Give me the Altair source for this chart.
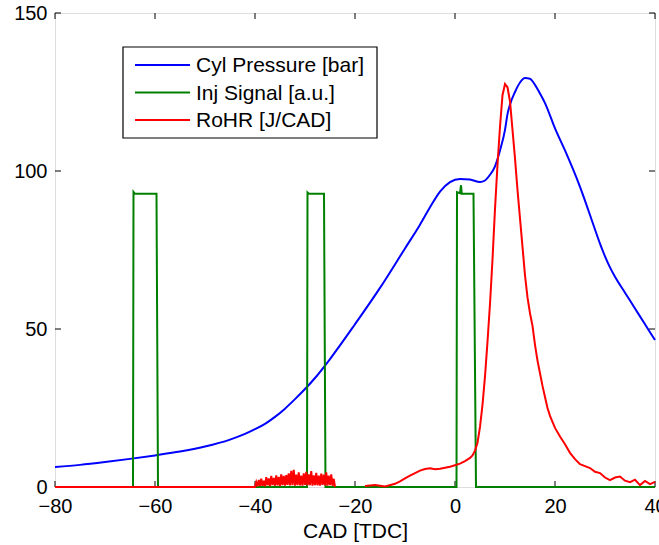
import altair as alt
import pandas as pd

# ---------------- data ----------------
series_names = ["Cyl Pressure [bar]", "Inj Signal [a.u.]", "RoHR [J/CAD]"]
series_colors = ["#0000ff", "#008000", "#ff0000"]

cyl_x = [-80, -75, -70, -65, -60, -55, -50, -45, -42, -40, -38, -36, -34, -32,
         -30, -28, -25, -20, -15, -10, -7, -5, -3, -1, 1,
         3, 5, 6, 7, 8, 9, 10, 10.5, 11, 12,
         13, 14, 15, 15.7, 17, 18, 20, 22, 25, 28,
         29, 30, 31, 32, 34, 36, 38, 40]
cyl_y = [6.3, 7.0, 7.9, 8.9, 10.0, 11.2, 12.8, 15.0, 16.8, 18.3, 20.0, 22.2, 24.8, 27.8,
         31.0, 34.5, 40.5, 51.5, 63.0, 75.5, 83.0, 88.5, 93.5, 96.5, 97.5,
         97.3, 96.5, 97.0, 98.8, 101.5, 106.5, 113, 118, 121, 125,
         128, 129.4, 129.2, 128, 124.5, 121.5, 113.5, 106.5, 95, 81.5,
         77, 73, 69.5, 66.5, 61.5, 56.5, 51.5, 46.5]

inj_x = [-80, -64.4, -64.3, -64.0, -59.7, -59.4,
         -29.6, -29.5, -29.2, -26.2, -25.9,
         0.3, 0.4, 1.0, 1.2, 1.35, 3.7, 4.2, 40]
inj_y = [0, 0, 93.4, 92.8, 92.8, 0,
         0, 93.2, 92.8, 92.8, 0,
         0, 93.3, 93.0, 95.5, 92.8, 92.8, 0, 0]

# RoHR segment A: zero baseline then combustion noise of the pilot
rohr_a_x0 = -80
noise_start = -40
noise_step = 0.25
rohr_noise = [0.0, 1.5, 0.2, 2.2, 0.3, 2.6, 0.4, 2.0, 0.2, 3.1, 0.5, 2.7, 0.3,
              3.5, 0.6, 2.9, 0.4, 3.7, 0.5, 3.2, 0.3, 4.0, 0.6, 3.5, 0.4, 3.8,
              0.7, 4.3, 0.5, 5.1, 0.6, 5.4, 0.4, 3.9, 0.6, 4.6, 0.5, 3.6, 0.4,
              4.3, 0.7, 4.8, 0.5, 4.0, 0.6, 5.0, 0.4, 3.7, 0.6, 4.5, 0.5, 3.6,
              0.4, 4.2, 0.7, 3.9, 0.5, 4.6, 0.4, 3.6, 0.6, 4.0, 0.4, 2.6, 0.0]

# RoHR segment B: main heat release
rohr_b_x = [-18, -16, -14, -12, -11, -10, -9, -8, -7, -6, -5, -4, -3, -2, -1,
            0, 1, 2, 3, 3.5, 4, 4.5, 5, 5.5, 6, 6.5, 7, 7.5, 8, 8.5, 9, 9.5,
            10, 10.5, 11, 11.5, 12, 12.5, 13, 13.5, 14, 14.5, 15, 15.5, 16,
            16.5, 17, 17.5, 18, 18.5, 19, 20, 21, 22, 23, 24, 25, 26, 27, 28,
            29, 30, 31, 32, 33, 34, 35, 36, 37, 38, 39, 40]
rohr_b_y = [0.3, 0.6, 0.2, 1.0, 1.8, 2.7, 3.6, 4.4, 5.2, 5.7, 5.9, 5.6, 5.8, 6.1, 6.4,
            6.9, 7.4, 8.2, 9.2, 10.0, 11.5, 14, 19, 26, 35, 46, 58, 72, 88, 102, 114, 124,
            127.5, 126.5, 122, 113, 104, 94, 85, 76, 67, 60, 55, 51, 45,
            40, 36, 32, 28.5, 25, 22.5, 18.7, 16, 13.5, 10.8, 8.8, 7.2, 6.6, 6.0, 4.8,
            4.4, 3.0, 2.2, 3.0, 3.3, 2.0, 1.5, 2.3, 0.6, 1.9, 0.9, 1.6]

x_ticks = [-80, -60, -40, -20, 0, 20, 40]
y_ticks = [0, 50, 100, 150]

# ---------------- frames ----------------
rows = []
for x, y in zip(cyl_x, cyl_y):
    rows.append({"x": x, "y": y, "s": series_names[0], "seg": "p"})
for x, y in zip(inj_x, inj_y):
    rows.append({"x": x, "y": y, "s": series_names[1], "seg": "i"})
rows.append({"x": rohr_a_x0, "y": 0.0, "s": series_names[2], "seg": "a"})
for i, y in enumerate(rohr_noise):
    rows.append({"x": noise_start + i * noise_step, "y": y, "s": series_names[2], "seg": "a"})
for x, y in zip(rohr_b_x, rohr_b_y):
    rows.append({"x": x, "y": y, "s": series_names[2], "seg": "b"})
df = pd.DataFrame(rows)

W, H = 600, 474
FONT = "Liberation Sans"

xscale = alt.Scale(domain=[-80, 40], nice=False, zero=False)
yscale = alt.Scale(domain=[0, 150], nice=False, zero=False)
color = alt.Color("s:N", scale=alt.Scale(domain=series_names, range=series_colors),
                  legend=None)

xaxis = alt.Axis(values=x_ticks, ticks=False, tickSize=0, domain=False, grid=False,
                 labelFlush=False, labelOverlap=False,
                 labelFontSize=20, labelFont=FONT, labelColor="black", labelPadding=9,
                 title="CAD [TDC]", titleFontSize=21, titleFont=FONT,
                 titleFontWeight="normal", titleColor="black", titlePadding=4)
yaxis = alt.Axis(values=y_ticks, ticks=False, tickSize=0, domain=False, grid=False,
                 labelFlush=False, labelOverlap=False,
                 labelFontSize=20, labelFont=FONT, labelColor="black", labelPadding=8,
                 title=None)


def line_layer(name, interp):
    return alt.Chart(df).transform_filter(alt.datum.s == name).mark_line(
        strokeWidth=2, interpolate=interp
    ).encode(
        x=alt.X("x:Q", scale=xscale, axis=xaxis),
        y=alt.Y("y:Q", scale=yscale, axis=yaxis),
        color=color,
        detail="seg:N",
        order="x:Q",
    )


blue = line_layer(series_names[0], "monotone")
green = line_layer(series_names[1], "linear")
red = line_layer(series_names[2], "linear")

# inward ticks on all four sides
xt = pd.DataFrame({"t": x_ticks})
yt = pd.DataFrame({"t": y_ticks})
tick_style = dict(color="black", strokeWidth=1)
bt = alt.Chart(xt).mark_rule(**tick_style).encode(
    x=alt.X("t:Q", scale=xscale), y=alt.value(H), y2=alt.value(H - 6))
tt = alt.Chart(xt).mark_rule(**tick_style).encode(
    x=alt.X("t:Q", scale=xscale), y=alt.value(0), y2=alt.value(6))
lt = alt.Chart(yt).mark_rule(**tick_style).encode(
    y=alt.Y("t:Q", scale=yscale), x=alt.value(0), x2=alt.value(6))
rt = alt.Chart(yt).mark_rule(**tick_style).encode(
    y=alt.Y("t:Q", scale=yscale), x=alt.value(W - 6), x2=alt.value(W))

# legend box (MATLAB style) drawn by hand
leg_df = pd.DataFrame({"s": series_names})
box = alt.Chart(leg_df.head(1)).mark_rect(
    fill="white", stroke="black", strokeWidth=1.2
).encode(x=alt.value(68), x2=alt.value(322), y=alt.value(34), y2=alt.value(125))

leg_rows = [52, 79.5, 107]
leg_layers = []
for name, yy in zip(series_names, leg_rows):
    one = leg_df[leg_df.s == name]
    leg_layers.append(alt.Chart(one).mark_rule(strokeWidth=2).encode(
        x=alt.value(80), x2=alt.value(135), y=alt.value(yy), color=color))
    leg_layers.append(alt.Chart(one).mark_text(
        align="left", baseline="middle", fontSize=21, font=FONT, color="black"
    ).encode(x=alt.value(141), y=alt.value(yy + 1), text="s:N"))

chart = alt.layer(bt, tt, lt, rt, blue, green, red, box, *leg_layers).properties(
    width=W, height=H,
    autosize=alt.AutoSizeParams(type="none"),
    padding={"left": 55, "top": 13, "right": 4, "bottom": 58},
    background="white",
).configure_view(stroke="black", strokeWidth=1).configure(font=FONT)

chart.save("out.html", embed_options={"renderer": "svg", "actions": False})
